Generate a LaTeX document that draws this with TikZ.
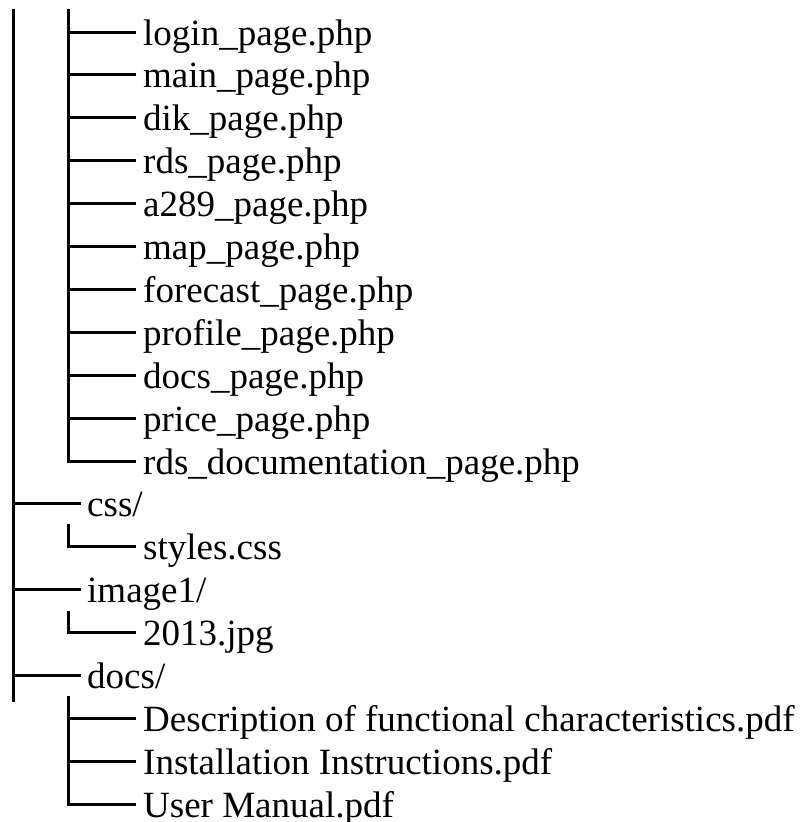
\documentclass[tikz,border=0pt]{standalone}
\usepackage{fontspec}
\setmainfont{Liberation Serif}
\begin{document}
\begin{tikzpicture}[x=1pt,y=-1pt,
  treeline/.style={line width=3pt,line cap=rect,line join=miter},
  entry/.style={anchor=base west,inner sep=0pt,font=\fontsize{37}{42}\selectfont}]
\useasboundingbox (0,0) rectangle (806,822);
% rows at y = 32 + 42.9k, baseline 13 below
\foreach \k/\name/\txt in {0/f0/login\_page.php,1/f1/main\_page.php,2/f2/dik\_page.php,3/f3/rds\_page.php,4/f4/a289\_page.php,5/f5/map\_page.php,6/f6/forecast\_page.php,7/f7/profile\_page.php,8/f8/docs\_page.php,9/f9/price\_page.php,10/f10/rds\_documentation\_page.php,12/styles/styles.css,14/img/2013.jpg,16/d1/Description of functional characteristics.pdf,17/d2/Installation Instructions.pdf,18/d3/User Manual.pdf}{
  \node[entry] (\name) at (143,{32+42.9*\k+13}) {\txt};
  \coordinate (\name-l) at (134,{32+42.9*\k});
}
\foreach \k/\name/\txt in {11/css/{css/},13/image/{image1/},15/docs/{docs/}}{
  \node[entry] (\name) at (87,{32+42.9*\k+13}) {\txt};
  \coordinate (\name-l) at (79,{32+42.9*\k});
}
% outer trunk
\coordinate (trunktop) at (13,10);
\coordinate (trunkbot) at (13,700);
\draw[treeline] (trunktop) -- (trunkbot);
\foreach \n in {css,image,docs}{
  \draw[treeline] (\n-l) -- (\n-l -| trunktop);
}
% first group
\coordinate (g1top) at (68,10);
\draw[treeline] (g1top) |- (f10-l);
\foreach \n in {f0,f1,f2,f3,f4,f5,f6,f7,f8,f9}{
  \draw[treeline] (\n-l) -- (\n-l -| g1top);
}
% css group
\coordinate (g2top) at (68,525);
\draw[treeline] (g2top) |- (styles-l);
% image group
\coordinate (g3top) at (68,612);
\draw[treeline] (g3top) |- (img-l);
% docs group
\coordinate (g4top) at (68,697);
\draw[treeline] (g4top) |- (d3-l);
\foreach \n in {d1,d2}{
  \draw[treeline] (\n-l) -- (\n-l -| g4top);
}
\end{tikzpicture}
\end{document}
